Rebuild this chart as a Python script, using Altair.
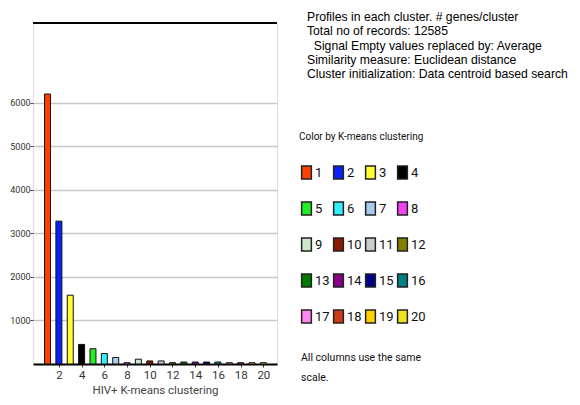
import altair as alt
import pandas as pd

clusters = list(range(1, 21))
genes = [6200, 3280, 1580, 450, 350, 240, 150, 30, 110, 70,
         70, 30, 45, 45, 45, 45, 30, 30, 30, 30]
colors = ["#FF4000", "#0A22F5", "#FFFF33", "#000000", "#22EE22",
          "#33EEFF", "#A8CCF0", "#F044F0", "#CCE6CC", "#8B1A00",
          "#CCCCCC", "#808000", "#007A00", "#880088", "#000088",
          "#008080", "#FF88EE", "#CC3A18", "#FFD000", "#F0E020"]
x_ticks = [2, 4, 6, 8, 10, 12, 14, 16, 18, 20]
y_ticks = [1000, 2000, 3000, 4000, 5000, 6000]
info_lines = [
    "Profiles in each cluster. # genes/cluster",
    "Total no of records: 12585",
    "\u200b\u00a0\u00a0Signal Empty values replaced by: Average",
    "Similarity measure: Euclidean distance",
    "Cluster initialization: Data centroid based search",
]
note_lines = ["All columns use the same", "scale."]
x_title = "HIV+ K-means clustering"
legend_title = "Color by K-means clustering"

narrow = "Roboto, sans-serif"
sans = "Liberation Sans, Arial, sans-serif"

df = pd.DataFrame({"cluster": clusters, "genes": genes})

# legend is laid out column-major by Vega: reorder so it reads row by row (4 per row)
n_cols, n_rows = 4, 5
legend_order = [clusters[r * n_cols + c] for c in range(n_cols) for r in range(n_rows)]
legend_colors = [colors[k - 1] for k in legend_order]

W, H = 244, 341

bars = alt.Chart(df).mark_bar(width=6, stroke="#111111", strokeWidth=1).encode(
    x=alt.X("cluster:Q",
            scale=alt.Scale(domain=[0.16, 20.76], nice=False, zero=False),
            axis=alt.Axis(values=x_ticks, title=x_title, grid=False,
                          domainColor="#000000", domainWidth=2,
                          tickSize=3, tickColor="#333333",
                          labelFont=narrow, labelFontSize=11.5, labelColor="#333333",
                          labelPadding=2,
                          titleFont=narrow, titleFontSize=11.5, titleFontWeight="normal",
                          titleColor="#444444", titleY=20, titleBaseline="top")),
    y=alt.Y("genes:Q",
            scale=alt.Scale(domain=[0, 7830], nice=False),
            axis=alt.Axis(values=y_ticks, title=None, grid=True, format="d",
                          gridColor="#C8C8C8", gridWidth=1.5,
                          domain=False, tickSize=3, tickColor="#444444",
                          labelFont=narrow, labelFontSize=9, labelColor="#333333",
                          labelPadding=0)),
    color=alt.Color("cluster:O",
                    scale=alt.Scale(domain=legend_order, range=legend_colors),
                    legend=alt.Legend(
                        title=legend_title, orient="none", legendX=266, legendY=109,
                        columns=n_cols, gridAlign="all", columnPadding=0, rowPadding=17,
                        symbolType="M-0.75,-1L0.75,-1L0.75,1L-0.75,1Z", symbolSize=169,
                        symbolStrokeColor="#222222", symbolStrokeWidth=1.5,
                        symbolOpacity=1,
                        labelFont=narrow, labelFontSize=13, labelColor="#111111",
                        labelOffset=1,
                        titleFont=narrow, titleFontSize=10, titleFontWeight="normal",
                        titleColor="#111111", titlePadding=23, padding=0)),
)

top_rule = alt.Chart(df).mark_rule(color="#000000", strokeWidth=2).encode(
    x=alt.value(0), x2=alt.value(W), y=alt.value(0)
)

info = alt.Chart(pd.DataFrame({"t": ["\n".join(info_lines)]})).mark_text(
    align="left", baseline="top", lineBreak="\n", lineHeight=14.3,
    font=sans, fontSize=12.2, color="#000000"
).encode(x=alt.value(274), y=alt.value(-12), text="t:N")

note = alt.Chart(pd.DataFrame({"t": ["\n".join(note_lines)]})).mark_text(
    align="left", baseline="top", lineBreak="\n", lineHeight=20,
    font=narrow, fontSize=10.5, color="#111111"
).encode(x=alt.value(268), y=alt.value(330), text="t:N")

chart = alt.layer(bars, top_rule, info, note).properties(
    width=W, height=H,
    autosize=alt.AutoSizeParams(type="none"),
    padding={"left": 25, "top": 15, "right": 295, "bottom": 33},
).configure_view(stroke="#555555", strokeWidth=1.2).configure(background="white")

chart.save("out.html", embed_options={"renderer": "svg", "actions": False})
